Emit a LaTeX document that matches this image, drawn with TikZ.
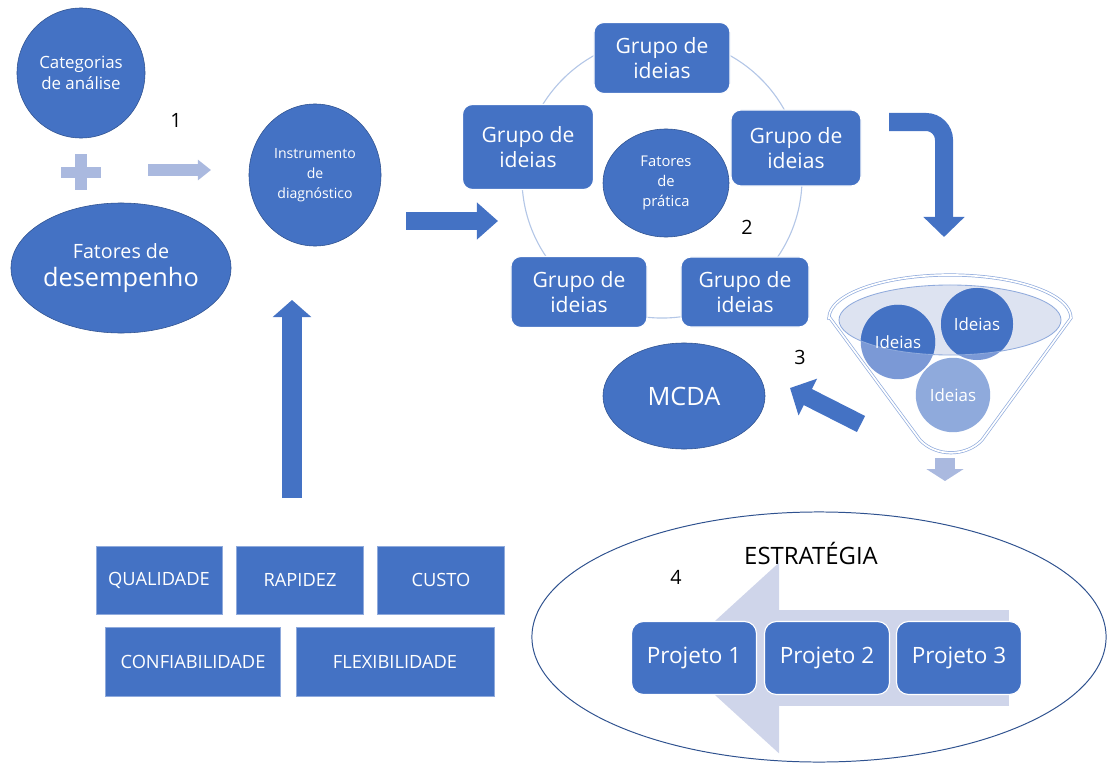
\documentclass[tikz,border=0pt]{standalone}
\usepackage{fontspec}
\setmainfont{Open Sans}
\usetikzlibrary{arrows.meta,positioning,shapes.geometric}
\definecolor{Blue}{HTML}{4472C4}
\definecolor{Navy}{HTML}{2F528F}
\definecolor{Pale}{HTML}{AAB9DF}
\definecolor{Ring}{HTML}{B4C7E7}
\definecolor{Edge}{HTML}{8FAADC}
\definecolor{Mist}{HTML}{DDE3F1}
\definecolor{Mid}{HTML}{7B99D6}
\definecolor{Soft}{HTML}{8FAADC}
\definecolor{Haze}{HTML}{CFD5EA}
\tikzset{
  blob/.style={ellipse,fill=Blue,draw=Navy,line width=.4pt,text=white,align=center,inner sep=0pt},
  grp/.style={rectangle,rounded corners=2.5mm,fill=Blue,draw=white,line width=.8pt,text=white,align=center,font=\fontsize{15}{18}\selectfont},
  crit/.style={rectangle,fill=Blue,draw=Edge,line width=.5pt,text=white,minimum height=1.7cm,font=\fontsize{13}{15}\selectfont},
  proj/.style={grp,rounded corners=3mm,minimum width=3.125cm,minimum height=1.825cm,font=\fontsize{16}{19}\selectfont},
  idea/.style={circle,minimum size=1.8cm,text=white,font=\fontsize{12}{14}\selectfont},
  num/.style={font=\fontsize{14}{17}\selectfont},
  fat/.style={draw=Blue,line width=.45cm,-{Triangle[length=.5cm,width=1cm]}},
  thin/.style={draw=Pale,line width=.28cm,-{Triangle[length=.33cm,width=.5cm]}},
  funnel/.style={draw=Edge,line width=.5pt,double=white,double distance=1.2pt,fill=white}
}
\begin{document}
\begin{tikzpicture}[x=0.025cm,y=-0.025cm]
  \useasboundingbox (0,0) rectangle (1107,769);
  % step 1
  \node[blob,minimum width=3.2cm,minimum height=3.25cm,font=\fontsize{12}{14.4}\selectfont] (cat) at (81,73) {Categorias\\de análise};
  \fill[Pale] (61,167) rectangle (101,178);
  \fill[Pale] (75,154) rectangle (87,190);
  \node[blob,minimum width=5.5cm,minimum height=3.25cm] (des) at (121,268)
    {\fontsize{14}{18}\selectfont Fatores de\\[5pt]\fontsize{18}{20}\selectfont desempenho};
  \node[blob,minimum width=3.3cm,minimum height=3.55cm,font=\fontsize{10}{14.4}\selectfont] (ins) at (315,175) {Instrumento\\de\\diagnóstico};
  \node[num] (n1) at (176,120) {1};
  \coordinate (a1s) at (148,170); \coordinate (a1e) at (211,170);
  \draw[thin] (a1s) -- (a1e);
  % criteria
  \node[crit,minimum width=3.15cm] (qua) at (159,580) {QUALIDADE};
  \node[crit,minimum width=3.175cm] (rap) at (300,580) {RAPIDEZ};
  \node[crit,minimum width=3.175cm] (cus) at (441,580) {CUSTO};
  \node[crit,minimum width=4.375cm,minimum height=1.725cm] (con) at (193,662) {CONFIABILIDADE};
  \node[crit,minimum width=4.95cm,minimum height=1.725cm] (fle) at (395,662) {FLEXIBILIDADE};
  \coordinate (a6s) at (292,498); \coordinate (a6e) at (292,300);
  \draw[fat,line width=.48cm,-{Triangle[length=.43cm,width=.95cm]}] (a6s) -- (a6e);
  % step 2
  \coordinate (a2s) at (406,221); \coordinate (a2e) at (498,221);
  \draw[fat,line width=.43cm,-{Triangle[length=.53cm,width=.9cm]}] (a2s) -- (a2e);
  \node[circle,draw=Ring,line width=.8pt,minimum size=7cm] (ring) at (662,178) {};
  \node[grp,minimum width=3.4cm,minimum height=1.775cm] (g1) at (662,58) {Grupo de\\ideias};
  \node[grp,minimum width=3.275cm,minimum height=2.125cm] (g2) at (528,147) {Grupo de\\ideias};
  \node[grp,minimum width=3.25cm,minimum height=1.9cm] (g3) at (796,148) {Grupo de\\ideias};
  \node[grp,minimum width=3.4cm,minimum height=1.775cm] (g4) at (579,292) {Grupo de\\ideias};
  \node[grp,minimum width=3.2cm,minimum height=1.75cm] (g5) at (745,292) {Grupo de\\ideias};
  \node[blob,minimum width=3.15cm,minimum height=2.7cm,font=\fontsize{10.5}{14.4}\selectfont] (fp) at (666,183) {Fatores\\de\\prática};
  \node[num] (n2) at (747,227) {2};
  \coordinate (a3s) at (889,122); \coordinate (a3e) at (944,237);
  \draw[fat,rounded corners=.45cm] (a3s) -| (a3e);
  % step 3: funnel
  \draw[funnel] (830,318) -- (920,440) .. controls (936,457) and (966,457) .. (982,440) -- (1071,318)
    arc[start angle=0,end angle=180,x radius=3.025cm,y radius=1.075cm] -- cycle;
  \node[ellipse,fill=Mist,minimum width=5.55cm,minimum height=1.75cm,inner sep=0pt] (rim) at (950,320) {};
  \coordinate (c1) at (898,342); \coordinate (c2) at (977,324); \coordinate (c3) at (953,395);
  \fill[Mid] (c1) circle[radius=.93cm];
  \fill[Mid] (c2) circle[radius=.9cm];
  \fill[Soft] (c3) circle[radius=.93cm];
  \begin{scope}
    \clip (rim.center) ellipse[x radius=2.775cm,y radius=.875cm];
    \fill[Blue] (c1) circle[radius=.93cm];
    \fill[Blue] (c2) circle[radius=.9cm];
  \end{scope}
  \draw[Edge,line width=.6pt] (rim.center) ellipse[x radius=2.775cm,y radius=.875cm];
  \node[idea] (id1) at (c1) {Ideias};
  \node[idea] (id2) at (c2) {Ideias};
  \node[idea] (id3) at (c3) {Ideias};
  \node[blob,minimum width=4.05cm,minimum height=2.65cm,font=\fontsize{18}{22}\selectfont] (mcda) at (684,396) {MCDA};
  \node[num] (n3) at (800,357) {3};
  \coordinate (a4s) at (861,424); \coordinate (a4e) at (790,388);
  \draw[fat] (a4s) -- (a4e);
  \coordinate (a5s) at (945,458); \coordinate (a5e) at (945,481);
  \draw[thin,line width=.5cm,-{Triangle[length=.3cm,width=.92cm]}] (a5s) -- (a5e);
  % step 4
  \node[ellipse,draw=Navy,line width=.7pt,minimum width=14.35cm,minimum height=6.25cm] (est) at (819,637) {};
  \node[font=\fontsize{17}{20}\selectfont] (tit) at (811,553) {ESTRATÉGIA};
  \node[num] (n4) at (676,577) {4};
  \coordinate (a7s) at (1009,658); \coordinate (a7e) at (674,658);
  \draw[draw=Haze,line width=2.375cm,-{Triangle[length=2.625cm,width=4.6cm]}] (a7s) -- (a7e);
  \node[proj] (p1) at (694,658) {Projeto 1};
  \node[proj] (p2) at (827,658) {Projeto 2};
  \node[proj] (p3) at (959,658) {Projeto 3};
\end{tikzpicture}
\end{document}
